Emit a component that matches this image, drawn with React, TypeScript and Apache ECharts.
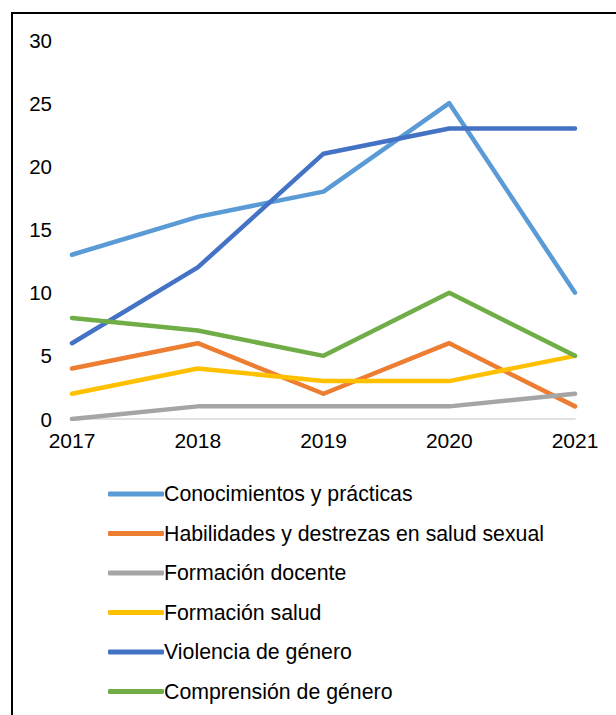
import React, { useEffect, useRef } from "react";
import * as echarts from "echarts";

const years = ["2017", "2018", "2019", "2020", "2021"];
const seriesNames = [
  "Conocimientos y prácticas",
  "Habilidades y destrezas en salud sexual",
  "Formación docente",
  "Formación salud",
  "Violencia de género",
  "Comprensión de género",
];
const conocimientos = [13, 16, 18, 25, 10];
const habilidades = [4, 6, 2, 6, 1];
const formacionDocente = [0, 1, 1, 1, 2];
const formacionSalud = [2, 4, 3, 3, 5];
const violencia = [6, 12, 21, 23, 23];
const comprension = [8, 7, 5, 10, 5];
const colors = ["#5B9BD5", "#ED7D31", "#A5A5A5", "#FFC000", "#4472C4", "#70AD47"];

const FONT = "'Liberation Sans', Arial, sans-serif";

export default function App() {
  const ref = useRef<HTMLDivElement>(null);
  useEffect(() => {
    if (!ref.current) return;
    const chart = echarts.init(ref.current, null, { renderer: "svg" });
    const data = [conocimientos, habilidades, formacionDocente, formacionSalud, violencia, comprension];
    chart.setOption({
      animation: false,
      color: colors,
      textStyle: { fontFamily: FONT },
      graphic: [
        {
          type: "rect",
          shape: { x: 12, y: 13, width: 640, height: 740 },
          style: { fill: "none", stroke: "#000", lineWidth: 2 },
          silent: true,
        },
      ],
      grid: { left: 72, right: 41, top: 40, bottom: 296, containLabel: false },
      xAxis: {
        type: "category",
        data: years,
        boundaryGap: false,
        axisLine: { show: true, lineStyle: { color: "#D9D9D9", width: 1.5 } },
        axisTick: { show: false },
        axisLabel: { color: "#000", fontSize: 21, fontFamily: FONT, margin: 11 },
        splitLine: { show: false },
      },
      yAxis: {
        type: "value",
        min: 0,
        max: 30,
        interval: 5,
        axisLine: { show: false },
        axisTick: { show: false },
        splitLine: { show: false },
        axisLabel: { color: "#000", fontSize: 20.5, fontFamily: FONT, margin: 20 },
      },
      legend: {
        orient: "vertical",
        left: 103,
        top: 477,
        itemWidth: 56,
        itemHeight: 5,
        itemGap: 15.5,
        icon: "roundRect",
        textStyle: { color: "#000", fontSize: 21.3, fontFamily: FONT, lineHeight: 24, padding: [0, 0, 0, -5] },
        data: seriesNames,
      },
      series: seriesNames.map((name, i) => ({
        name,
        type: "line",
        data: data[i],
        symbol: "none",
        lineStyle: { width: 4.5, color: colors[i], cap: "round", join: "round" },
        itemStyle: { color: colors[i] },
      })),
    });
    return () => chart.dispose();
  }, []);
  return (
    <div
      ref={ref}
      style={{ position: "absolute", left: 0, top: 0, width: 616, height: 715, background: "#fff" }}
    />
  );
}
